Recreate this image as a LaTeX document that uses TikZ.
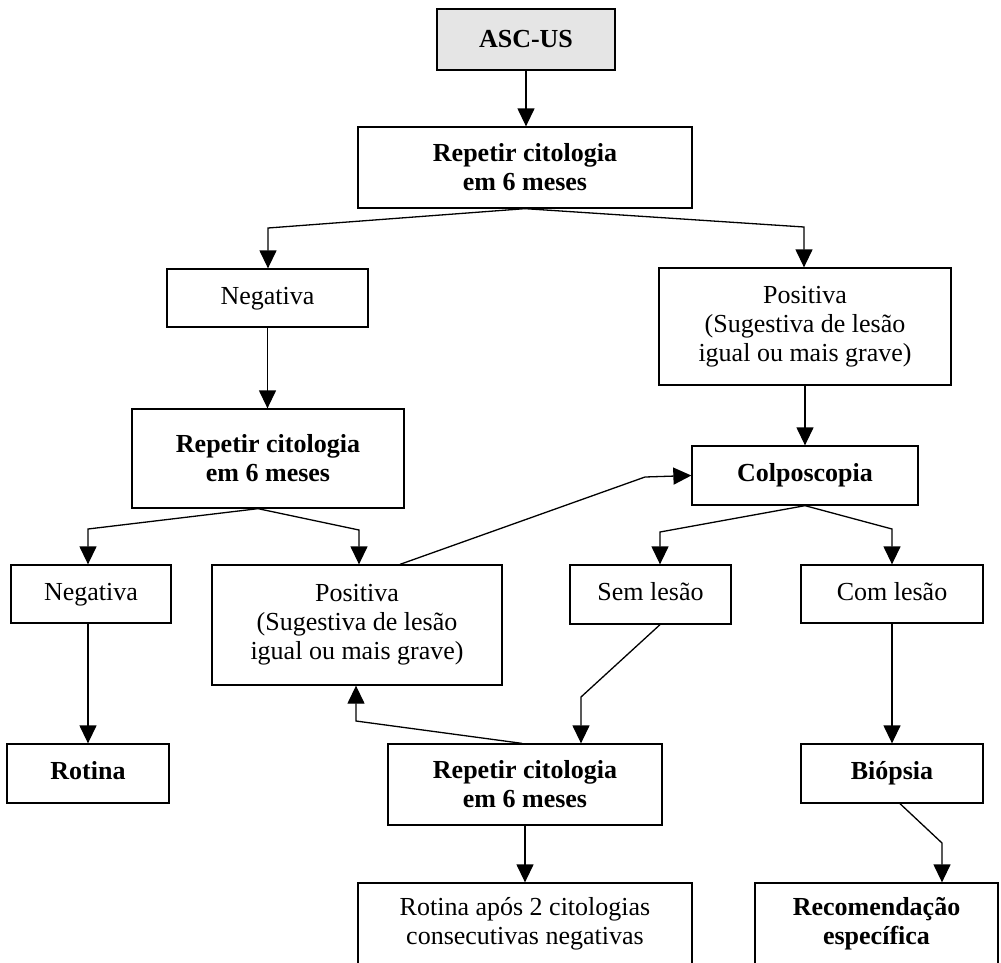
\documentclass[tikz,border=0pt]{standalone}
\usepackage{fontspec}
\setmainfont{Liberation Serif}
\usetikzlibrary{arrows.meta}
\tikzset{
  box/.style={draw=black, line width=1.3pt, inner sep=0pt, align=center,
    font=\fontsize{26}{29}\selectfont},
  bbox/.style={box, font=\fontsize{26}{29}\selectfont\bfseries},
  conn/.style={line width=1.3pt, -{Triangle[width=17pt,length=18pt]}},
  plain/.style={line width=1.3pt}
}
\begin{document}
\begin{tikzpicture}[x=1pt,y=-1pt]
\useasboundingbox (0,0) rectangle (1001,962);
\clip (0,0) rectangle (1001,962);
\fill[white] (0,0) rectangle (1001,962);

% nodes
\node[bbox, fill=black!10, minimum width=178pt, minimum height=61pt] (asc) at (526,39.5) {ASC-US};
\node[bbox, minimum width=334pt, minimum height=81pt] (rep1) at (525,167.5) {Repetir citologia\\em 6 meses};
\node[box, minimum width=201pt, minimum height=58pt, text height=18pt, text depth=6pt] (neg1) at (267.5,298) {Negativa};
\node[box, minimum width=292pt, minimum height=117pt] (pos1) at (805,326.5) {Positiva\\(Sugestiva de lesão\\igual ou mais grave)};
\node[bbox, minimum width=272pt, minimum height=99pt] (rep2) at (268,458.5) {Repetir citologia\\em 6 meses};
\node[bbox, minimum width=226pt, minimum height=59pt] (colp) at (805,475.5) {Colposcopia};
\node[box, minimum width=160pt, minimum height=58pt, text height=18pt, text depth=6pt] (neg2) at (91,594) {Negativa};
\node[box, minimum width=290pt, minimum height=120pt] (pos2) at (357,625) {Positiva\\(Sugestiva de lesão\\igual ou mais grave)};
\node[box, minimum width=161pt, minimum height=59pt, text height=18pt, text depth=6pt] (sem) at (650.5,594.5) {Sem lesão};
\node[box, minimum width=182pt, minimum height=58pt, text height=18pt, text depth=6pt] (com) at (892,594) {Com lesão};
\node[bbox, minimum width=162pt, minimum height=59pt, text height=18pt, text depth=6pt] (rot) at (88,773.5) {Rotina};
\node[bbox, minimum width=274pt, minimum height=81pt] (rep3) at (525,784.5) {Repetir citologia\\em 6 meses};
\node[bbox, minimum width=182pt, minimum height=59pt] (bio) at (892,773.5) {Biópsia};
\node[box, minimum width=334pt, minimum height=82pt] (rap) at (525,924) {Rotina após 2 citologias\\consecutivas negativas};
\node[bbox, minimum width=243pt, minimum height=82pt] (rec) at (876.5,924) {Recomendação\\específica};

% bend points
\coordinate (k1) at (268,228);
\coordinate (k2) at (804,227);
\coordinate (k3) at (88,529);
\coordinate (k4) at (359,530);
\coordinate (k5) at (645,477);
\coordinate (k6) at (660,532);
\coordinate (k7) at (892,529);
\coordinate (k8) at (581,697);
\coordinate (k9) at (356,721);
\coordinate (k10) at (942,843);

% connectors
\draw[conn] (asc) -- (asc |- rep1.north);
\draw[conn] (rep1.south) -- (k1) -- (k1 |- neg1.north);
\draw[conn] (rep1.south) -- (k2) -- (k2 |- pos1.north);
\draw[conn] (neg1) -- (neg1 |- rep2.north);
\draw[conn] (pos1) -- (pos1 |- colp.north);
\draw[conn] ([xshift=-10pt]rep2.south) -- (k3) -- (k3 |- neg2.north);
\draw[conn] ([xshift=-10pt]rep2.south) -- (k4) -- (k4 |- pos2.north);
\draw[conn] ([xshift=43pt]pos2.north) -- (k5) -- (colp.west);
\draw[conn] (colp.south) -- (k6) -- (k6 |- sem.north);
\draw[conn] (colp.south) -- (k7) -- (k7 |- com.north);
\draw[conn] (com) -- (com |- bio.north);
\draw[conn] (neg2.south -| rot.north) -- (rot.north);
\draw[conn] ([xshift=9.5pt]sem.south) -- (k8) -- (k8 |- rep3.north);
\draw[conn] ([xshift=-3pt]rep3.north) -- (k9) -- (k9 |- pos2.south);
\draw[conn] (rep3) -- (rep3 |- rap.north);
\draw[conn] ([xshift=8pt]bio.south) -- (k10) -- (k10 |- rec.north);
\end{tikzpicture}
\end{document}
